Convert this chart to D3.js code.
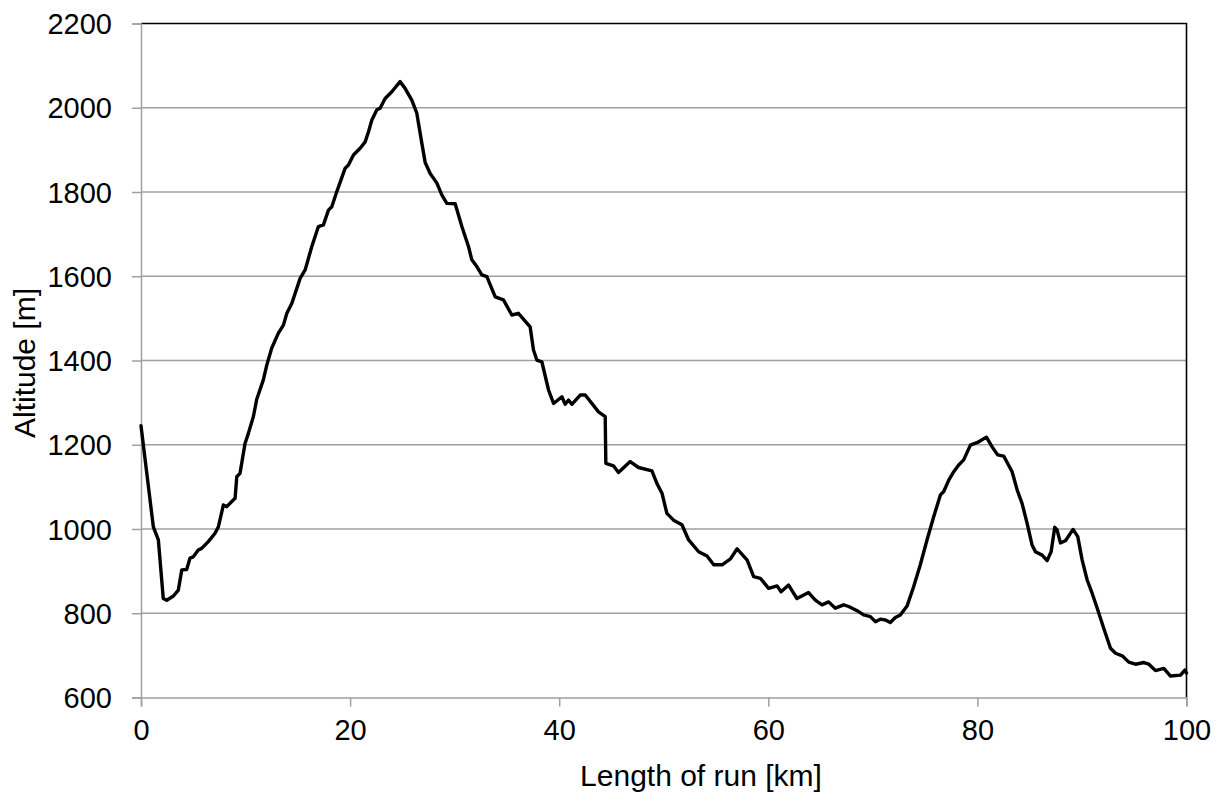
<!DOCTYPE html>
<html>
<head>
<meta charset="utf-8">
<script src="https://cdn.jsdelivr.net/npm/d3@7"></script>
<style>
  html, body { margin: 0; padding: 0; background: #fff; }
  svg { display: block; font-family: "Liberation Sans", Arial, sans-serif; }
</style>
</head>
<body>
<svg id="chart" width="1223" height="793"></svg>
<script>
// Elevation profile of the run: distance (km) and altitude (m)
const distanceKm = [
  0, 1.18, 1.66, 2.13, 2.46, 3.1, 3.57, 3.9, 4.37, 4.69, 5.0, 5.48, 5.8, 6.44, 7.08, 7.4,
  7.88, 8.2, 9.0, 9.16, 9.47, 9.95, 10.27, 10.75, 11.07, 11.7, 12.03, 12.5, 13.14, 13.62,
  13.95, 14.43, 15.22, 15.7, 16.33, 16.97, 17.45, 17.93, 18.25, 18.73, 19.52, 19.84, 20.32,
  20.96, 21.44, 21.76, 22.08, 22.56, 22.87, 23.35, 23.99, 24.78, 25.26, 25.9, 26.38, 26.86,
  27.18, 27.66, 28.3, 28.77, 29.25, 30.05, 30.69, 31.33, 31.64, 32.12, 32.6, 33.08, 33.88,
  34.67, 35.47, 36.1, 37.22, 37.54, 37.86, 38.34, 38.98, 39.46, 40.26, 40.57, 40.89, 41.21,
  42.01, 42.49, 43.76, 44.4, 44.46, 45.19, 45.67, 46.79, 47.59, 48.87, 49.35, 49.83, 50.3,
  50.94, 51.74, 52.38, 53.34, 54.14, 54.78, 55.58, 56.38, 57.02, 57.98, 58.6, 59.24, 60.03,
  60.84, 61.22, 61.94, 62.74, 63.85, 64.5, 65.14, 65.77, 66.41, 67.21, 67.69, 68.64, 69.12,
  69.76, 70.24, 70.72, 71.2, 71.67, 72.15, 72.63, 73.27, 73.9, 74.54, 75.18, 75.82, 76.46,
  76.78, 77.26, 77.74, 78.21, 78.69, 79.33, 80.13, 80.86, 81.41, 81.94, 82.52, 83.32, 83.8,
  84.27, 84.75, 85.23, 85.55, 86.19, 86.67, 87.05, 87.4, 87.62, 87.94, 88.42, 89.15, 89.6,
  90.02, 90.5, 90.98, 91.46, 92.09, 92.73, 93.21, 93.85, 94.48, 95.12, 95.92, 96.4, 97.03,
  97.83, 98.47, 99.43, 99.84, 100
];
const altitudeM = [
  1245, 1005, 974, 835, 831, 841, 855, 903, 904, 931, 934, 950, 954, 970, 990, 1005,
  1057, 1053, 1073, 1124, 1132, 1203, 1227, 1267, 1308, 1354, 1389, 1429, 1465, 1484,
  1512, 1536, 1595, 1615, 1670, 1718, 1722, 1757, 1765, 1801, 1856, 1864, 1888,
  1904, 1919, 1943, 1971, 1995, 1999, 2022, 2038, 2062, 2046, 2018, 1987, 1916,
  1870, 1844, 1821, 1793, 1773, 1772, 1718, 1670, 1639, 1623, 1603, 1599, 1551,
  1544, 1508, 1512, 1480, 1425, 1401, 1397, 1330, 1298, 1314, 1296, 1306, 1296,
  1318, 1318, 1278, 1267, 1156, 1150, 1134, 1160, 1146, 1138, 1108, 1085, 1037,
  1021, 1010, 974, 946, 936, 915, 915, 929, 953, 926, 887, 883, 859,
  865, 851, 867, 835, 849, 831, 820, 827, 812, 820, 816, 804, 796,
  792, 780, 786, 784, 778, 790, 796, 817, 863, 915, 974, 1029, 1081,
  1089, 1116, 1136, 1152, 1164, 1199, 1207, 1218, 1195, 1176, 1173, 1136, 1093,
  1061, 1014, 962, 946, 938, 925, 946, 1004, 998, 967, 972, 999, 982,
  926, 879, 847, 812, 764, 717, 705, 699, 684, 679, 683, 679, 664,
  669, 651, 653, 665, 658
];
const xTicks = [0, 20, 40, 60, 80, 100];
const yTicks = [600, 800, 1000, 1200, 1400, 1600, 1800, 2000, 2200];

const svg = d3.select("#chart");
const plot = { left: 141, right: 1186.5, top: 23.5, bottom: 697.5 };

const x = d3.scaleLinear().domain([0, 100]).range([plot.left, plot.right]);
const y = d3.scaleLinear().domain([600, 2200]).range([plot.bottom, plot.top]);

const gridColor = "#a0a0a0";
const fontSize = 29;

// horizontal gridlines
svg.append("g")
  .selectAll("line")
  .data(yTicks.filter(v => v > 600 && v < 2200))
  .join("line")
  .attr("x1", plot.left).attr("x2", plot.right)
  .attr("y1", d => y(d)).attr("y2", d => y(d))
  .attr("stroke", gridColor).attr("stroke-width", 1.5);

// plot frame: top and right edges in black
svg.append("path")
  .attr("d", `M${plot.left},${plot.top}H${plot.right}V${plot.bottom}`)
  .attr("fill", "none").attr("stroke", "#000").attr("stroke-width", 1.6);

// y axis
const yAxis = d3.axisLeft(y).tickValues(yTicks).tickSize(9).tickPadding(20).tickFormat(d3.format("d"));
const gy = svg.append("g").attr("transform", `translate(${plot.left},0)`).call(yAxis);
gy.select(".domain").attr("stroke", gridColor).attr("stroke-width", 1.5);
gy.selectAll(".tick line").attr("stroke", gridColor).attr("stroke-width", 1.5);
gy.selectAll(".tick text")
  .attr("font-size", fontSize).attr("font-family", "Liberation Sans, Arial, sans-serif")
  .attr("fill", "#000").attr("dy", "0.35em");

// x axis
const xAxis = d3.axisBottom(x).tickValues(xTicks).tickSize(9).tickPadding(13).tickFormat(d3.format("d"));
const gx = svg.append("g").attr("transform", `translate(0,${plot.bottom})`).call(xAxis);
gx.select(".domain").attr("stroke", gridColor).attr("stroke-width", 1.5);
gx.selectAll(".tick line").attr("stroke", gridColor).attr("stroke-width", 1.5);
gx.selectAll(".tick text")
  .attr("font-size", fontSize).attr("font-family", "Liberation Sans, Arial, sans-serif")
  .attr("fill", "#000");

// the elevation line
const line = d3.line().x(d => x(d[0])).y(d => y(d[1]));
svg.append("path")
  .datum(distanceKm.map((d, i) => [d, altitudeM[i]]))
  .attr("d", line)
  .attr("fill", "none").attr("stroke", "#000")
  .attr("stroke-width", 3.4).attr("stroke-linejoin", "round").attr("stroke-linecap", "round");

// axis titles
svg.append("text")
  .attr("x", 701).attr("y", 786)
  .attr("text-anchor", "middle").attr("font-size", 30)
  .text("Length of run [km]");

svg.append("text")
  .attr("transform", "translate(35,363) rotate(-90)")
  .attr("text-anchor", "middle").attr("font-size", 30)
  .text("Altitude [m]");
</script>
</body>
</html>
